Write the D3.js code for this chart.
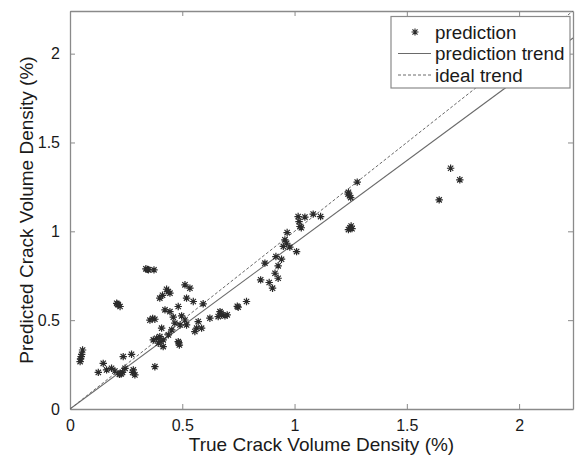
<!DOCTYPE html>
<html>
<head>
<meta charset="utf-8">
<script src="https://cdn.jsdelivr.net/npm/d3@7"></script>
<style>
  html, body { margin: 0; padding: 0; background: #fff; }
  svg { display: block; font-family: "Liberation Sans", Arial, sans-serif; }
</style>
</head>
<body>
<svg id="chart" width="576" height="457"></svg>
<script>
// ---- data ----
const trueVals = [
  0.338, 0.345, 0.349, 0.374,
  0.208, 0.215, 0.223, 0.212,
  0.056, 0.052, 0.047, 0.045, 0.050,
  0.237, 0.274,
  0.148, 0.126, 0.163, 0.185, 0.200, 0.223, 0.234, 0.220, 0.245, 0.282, 0.289, 0.279, 0.228,
  0.378,
  0.438, 0.430, 0.400, 0.445, 0.412,
  0.512, 0.534, 0.519, 0.549, 0.593, 0.482,
  0.423, 0.445, 0.460, 0.378, 0.356, 0.368,
  0.497, 0.512, 0.519, 0.490, 0.467, 0.453, 0.408, 0.571, 0.623,
  0.668, 0.675, 0.660, 0.690, 0.700, 0.672,
  0.749, 0.745, 0.786,
  0.564, 0.586, 0.556,
  0.386, 0.400, 0.371, 0.415, 0.393, 0.438, 0.405,
  0.482, 0.487, 0.485, 0.415,
  0.849, 0.868, 0.887, 0.902, 0.913, 0.927, 0.917, 0.942, 0.927,
  0.950, 0.957, 0.965, 0.979, 1.009, 0.967,
  1.016, 1.020, 1.024, 1.030, 1.046, 1.083, 1.116,
  1.240, 1.245, 1.250, 1.238, 1.279,
  1.240, 1.247, 1.252, 1.256,
  1.644, 1.695, 1.736
];
const predVals = [
  0.789, 0.786, 0.783, 0.783,
  0.595, 0.586, 0.577, 0.590,
  0.332, 0.308, 0.282, 0.267, 0.295,
  0.295, 0.308,
  0.257, 0.206, 0.220, 0.229, 0.214, 0.200, 0.206, 0.195, 0.229, 0.220, 0.192, 0.206, 0.198,
  0.238,
  0.661, 0.674, 0.624, 0.652, 0.640,
  0.699, 0.680, 0.624, 0.605, 0.592, 0.577,
  0.558, 0.548, 0.517, 0.505, 0.500, 0.510,
  0.524, 0.501, 0.473, 0.473, 0.483, 0.445, 0.455, 0.492, 0.511,
  0.548, 0.530, 0.520, 0.524, 0.530, 0.540,
  0.573, 0.578, 0.605,
  0.455, 0.455, 0.436,
  0.398, 0.407, 0.389, 0.389, 0.370, 0.417, 0.380,
  0.379, 0.360, 0.372, 0.351,
  0.727, 0.821, 0.712, 0.680, 0.764, 0.736, 0.858, 0.843, 0.806,
  0.915, 0.952, 0.933, 0.911, 0.886, 0.993,
  1.083, 1.055, 1.027, 1.020, 1.080, 1.097, 1.083,
  1.220, 1.200, 1.190, 1.210, 1.277,
  1.010, 1.020, 1.030, 1.015,
  1.177, 1.355, 1.290
];
const trendSlope = 0.932;          // prediction trend: y = 0.932 x
const lineXs = [0, 2.24];          // extent of trend lines
const xTicks = [0, 0.5, 1, 1.5, 2];
const yTicks = [0, 0.5, 1, 1.5, 2];
const xTickLabels = ["0", "0.5", "1", "1.5", "2"];
const yTickLabels = ["0", "0.5", "1", "1.5", "2"];
const legendLabels = ["prediction", "prediction trend", "ideal trend"];
const xLabel = "True Crack Volume Density (%)";
const yLabel = "Predicted Crack Volume Density (%)";

// ---- layout ----
const L = 70, R = 573, T = 11, B = 409;
const svg = d3.select("#chart");
const x = d3.scaleLinear().domain([0, 2.24]).range([L, R]);
const y = d3.scaleLinear().domain([0, 2.24]).range([B, T]);

const defs = svg.append("defs");
defs.append("clipPath").attr("id", "plotclip")
  .append("rect").attr("x", L).attr("y", T).attr("width", R - L).attr("height", B - T);
const blur = defs.append("filter").attr("id", "soft").attr("x", "-50%").attr("y", "-50%").attr("width", "200%").attr("height", "200%");
blur.append("feGaussianBlur").attr("stdDeviation", 0.7);

function asterisk(r) {
  const a = r * 0.72;
  return `M${-r},0L${r},0M0,${-r}L0,${r}M${-a},${-a}L${a},${a}M${-a},${a}L${a},${-a}`;
}

// axes frame & ticks (box on, ticks inside)
const axColor = "#8a8a8a";
const gx = svg.append("g").attr("transform", `translate(0,${B})`)
  .call(d3.axisBottom(x).tickValues(xTicks).tickFormat((d, i) => xTickLabels[i]).tickSizeInner(-5).tickSizeOuter(0).tickPadding(11));
const gxt = svg.append("g").attr("transform", `translate(0,${T})`)
  .call(d3.axisTop(x).tickValues(xTicks).tickFormat("").tickSizeInner(-5).tickSizeOuter(0));
const gy = svg.append("g").attr("transform", `translate(${L},0)`)
  .call(d3.axisLeft(y).tickValues(yTicks).tickFormat((d, i) => yTickLabels[i]).tickSizeInner(-5).tickSizeOuter(0).tickPadding(10));
const gyr = svg.append("g").attr("transform", `translate(${R},0)`)
  .call(d3.axisRight(y).tickValues(yTicks).tickFormat("").tickSizeInner(-5).tickSizeOuter(0));
[gx, gxt, gy, gyr].forEach(g => {
  g.select(".domain").attr("stroke", axColor).attr("stroke-width", 1.3);
  g.selectAll(".tick line").attr("stroke", axColor).attr("stroke-width", 1);
  g.selectAll(".tick text").attr("fill", "#1a1a1a").attr("font-size", 16)
    .attr("font-family", "Liberation Sans, Arial, sans-serif");
});
gx.selectAll(".tick text").attr("dy", "0.71em");

// trend lines
const plot = svg.append("g").attr("clip-path", "url(#plotclip)");
const line = d3.line().x(d => x(d[0])).y(d => y(d[1]));
plot.append("path")
  .attr("d", line(lineXs.map(v => [v, v])))
  .attr("fill", "none").attr("stroke", "#6a6a6a").attr("stroke-width", 1)
  .attr("stroke-dasharray", "3,2");
plot.append("path")
  .attr("d", line(lineXs.map(v => [v, v * trendSlope])))
  .attr("fill", "none").attr("stroke", "#6a6a6a").attr("stroke-width", 1.1);

// points
plot.append("g").attr("filter", "url(#soft)")
  .selectAll("path").data(trueVals.map((v, i) => [v, predVals[i]]))
  .join("path")
  .attr("transform", d => `translate(${x(d[0])},${y(d[1])})`)
  .attr("d", asterisk(3.7))
  .attr("fill", "none").attr("stroke", "#2a2a2a").attr("stroke-width", 1.2);

// axis labels
svg.append("text").attr("x", (L + R) / 2).attr("y", 451)
  .attr("text-anchor", "middle").attr("font-size", 19).attr("fill", "#1a1a1a").text(xLabel);
svg.append("text").attr("transform", `translate(33,${(T + B) / 2}) rotate(-90)`)
  .attr("text-anchor", "middle").attr("font-size", 19).attr("fill", "#1a1a1a").text(yLabel);

// legend
const lg = svg.append("g");
lg.append("rect").attr("x", 391).attr("y", 16.5).attr("width", 179).attr("height", 71.5)
  .attr("fill", "#fff").attr("stroke", axColor).attr("stroke-width", 1.2);
const rowsY = [32, 53.5, 75];
lg.append("path").attr("transform", `translate(415,${rowsY[0]})`).attr("d", asterisk(3.5))
  .attr("fill", "none").attr("stroke", "#2a2a2a").attr("stroke-width", 1.1).attr("filter", "url(#soft)");
lg.append("line").attr("x1", 398).attr("x2", 431).attr("y1", rowsY[1]).attr("y2", rowsY[1])
  .attr("stroke", "#6a6a6a").attr("stroke-width", 1.1);
lg.append("line").attr("x1", 398).attr("x2", 431).attr("y1", rowsY[2]).attr("y2", rowsY[2])
  .attr("stroke", "#6a6a6a").attr("stroke-width", 1).attr("stroke-dasharray", "3,2");
lg.selectAll("text.lab").data(legendLabels).join("text").attr("class", "lab")
  .attr("x", 435).attr("y", (d, i) => rowsY[i]).attr("dy", "0.36em")
  .attr("font-size", 18.8).attr("fill", "#1a1a1a").text(d => d);
</script>
</body>
</html>
